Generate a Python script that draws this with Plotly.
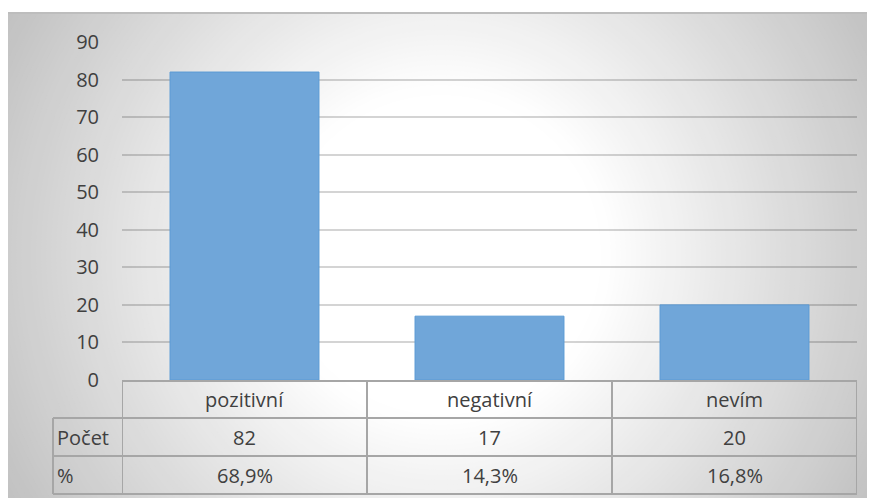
import plotly.graph_objects as go

# ---- data ----
categories = ["pozitivní", "negativní", "nevím"]
counts = [82, 17, 20]
percent_labels = ["68,9%", "14,3%", "16,8%"]
row_labels = ["Počet", "%"]
y_ticks = [0, 10, 20, 30, 40, 50, 60, 70, 80, 90]

W, H = 875, 500
OFF = 8  # page body margin in the viewer
FONT = "Open Sans"
TXT = "#404040"


def px(x):
    return (x - OFF) / W


def py(y):
    return 1 - (y - OFF) / H


fig = go.Figure()
fig.add_trace(go.Bar(
    x=categories, y=counts,
    marker=dict(color="rgb(112,166,217)", line=dict(color="#5B9BD5", width=1)),
    hoverinfo="x+y",
))

shapes = []
# radial gradient background (decoration), clipped to the chart rectangle
cx, cy = 441, 255
r = 520
while r >= 150:
    c = 255 - 0.184 * (r - 162)
    c = int(round(max(0, min(255, c))))
    shapes.append(dict(type="circle", xref="paper", yref="paper", layer="below",
                       x0=px(cx - r), x1=px(cx + r), y0=py(cy + r), y1=py(cy - r),
                       fillcolor=f"rgb({c},{c},{c})", line=dict(width=0)))
    r -= 5
# masks outside chart area
for (x0, y0, x1, y1) in [(-200, -200, W + 200, 12), (-200, -200, 8, H + 200),
                         (-200, 498, W + 200, H + 200)]:
    shapes.append(dict(type="rect", xref="paper", yref="paper", layer="below",
                       x0=px(x0), x1=px(x1), y0=py(y1), y1=py(y0),
                       fillcolor="white", line=dict(width=0)))
# top border
shapes.append(dict(type="line", xref="paper", yref="paper", layer="below",
                   x0=px(8), x1=px(W + 20), y0=py(13), y1=py(13),
                   line=dict(color="#BDBDBD", width=2)))

# data table grid
LC = "#A6A6A6"
row_y = [381, 418, 456, 494]
for i, yy in enumerate(row_y):
    x_start = 122 if i == 0 else 53
    shapes.append(dict(type="line", xref="paper", yref="paper",
                       x0=px(x_start), x1=px(857), y0=py(yy), y1=py(yy),
                       line=dict(color=LC, width=2)))
for xb in [-0.5, 0.5, 1.5, 2.5]:
    shapes.append(dict(type="line", xref="x", yref="paper",
                       x0=xb, x1=xb, y0=py(381), y1=py(494),
                       line=dict(color=LC, width=2)))
shapes.append(dict(type="line", xref="paper", yref="paper",
                   x0=px(53), x1=px(53), y0=py(418), y1=py(494),
                   line=dict(color=LC, width=2)))

annotations = []
font = dict(family=FONT, size=20, color=TXT)
for cat, n, p in zip(categories, counts, percent_labels):
    annotations.append(dict(x=cat, y=py(399), xref="x", yref="paper", text=cat,
                            showarrow=False, font=font, xanchor="center", yanchor="middle"))
    annotations.append(dict(x=cat, y=py(437), xref="x", yref="paper", text=str(n),
                            showarrow=False, font=font, xanchor="center", yanchor="middle"))
    annotations.append(dict(x=cat, y=py(475), xref="x", yref="paper", text=p,
                            showarrow=False, font=font, xanchor="center", yanchor="middle"))
for lab, yy in zip(row_labels, [437, 475]):
    annotations.append(dict(x=px(55), y=py(yy), xref="paper", yref="paper", text=lab,
                            showarrow=False, font=font, xanchor="left", yanchor="middle"))

fig.update_layout(
    width=W, height=H,
    autosize=False,
    margin=dict(l=0, r=0, t=0, b=0, pad=0, autoexpand=False),
    paper_bgcolor="white",
    plot_bgcolor="rgba(0,0,0,0)",
    showlegend=False,
    bargap=0.392,
    shapes=shapes,
    annotations=annotations,
    font=dict(family=FONT, color=TXT),
    xaxis=dict(domain=[px(122), px(857)], range=[-0.5, 2.5], showticklabels=False,
               showgrid=False, zeroline=False, showline=True, linecolor="#7F7F7F",
               linewidth=1, ticks="", fixedrange=True, automargin=False),
    yaxis=dict(domain=[py(380), py(42)], range=[0, 90], tickvals=y_ticks,
               showgrid=True, gridcolor="rgba(0,0,0,0.17)", gridwidth=1.5,
               zeroline=False, showline=False, ticks="",
               tickfont=dict(family=FONT, size=20, color=TXT),
               ticklabelstandoff=22, fixedrange=True, automargin=False),
)

fig.write_html("out.html")
